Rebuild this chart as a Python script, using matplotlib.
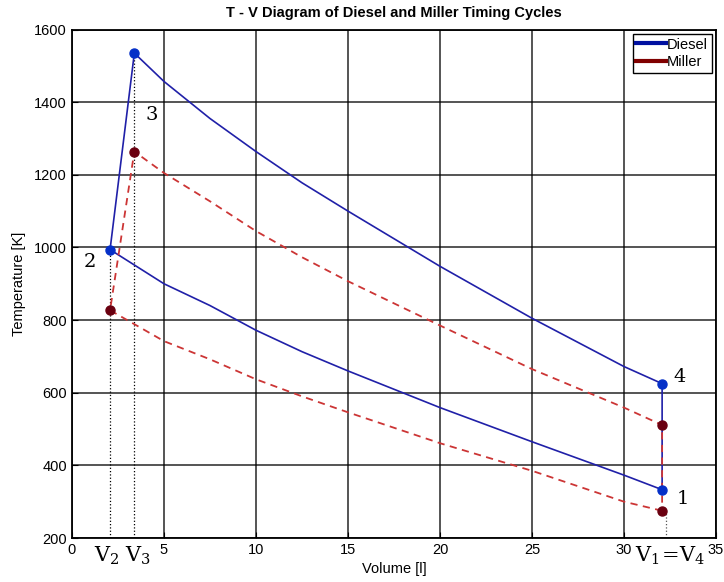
import matplotlib
matplotlib.use("Agg")
import matplotlib.pyplot as plt
import matplotlib.transforms as mtransforms

plt.rcParams['font.family'] = ['Liberation Sans', 'DejaVu Sans']
plt.rcParams['mathtext.fontset'] = 'dejavuserif'

# state volumes [l]
V1 = 32.07
V2 = 2.07
V3 = 3.39

# expansion stroke samples (3 -> 4)
v_exp = [3.39, 5, 7.5, 10, 12.5, 15, 20, 25, 30, 32.07]
diesel_exp_T = [1535, 1457, 1355, 1264, 1178, 1100, 948, 805, 672, 625]
miller_exp_T = [1264, 1205, 1127, 1045, 973, 907, 785, 665, 559, 511]

# compression stroke samples (1 -> 2)
v_comp = [32.07, 30, 25, 20, 15, 12.5, 10, 7.5, 5, 2.07]
diesel_comp_T = [333, 373, 465, 559, 660, 713, 772, 840, 900, 994]
miller_comp_T = [275, 300, 385, 461, 546, 590, 637, 692, 742, 827]

state_labels = ['1', '2', '3', '4']
label_pos = [(33.2, 308), (0.96, 961), (4.33, 1365), (33.0, 643)]

DIESEL_LINE = '#2020a8'
DIESEL_DOT = '#0530c8'
MILLER_LINE = '#cc3535'
MILLER_DOT = '#6a0010'


def cycle_path(v_c, t_c, v_e, t_e):
    v = list(v_c) + list(v_e) + [v_c[0]]
    t = list(t_c) + list(t_e) + [t_c[0]]
    return v, t


def corners(v_c, t_c, v_e, t_e):
    return [v_c[0], v_c[-1], v_e[0], v_e[-1]], [t_c[0], t_c[-1], t_e[0], t_e[-1]]


fig = plt.figure(figsize=(7.24, 5.82), dpi=100)
ax = fig.add_axes([0.0994, 0.0756, 0.8896, 0.8737])

# dotted guide lines down to the axis
ax.plot([V2, V2], [200, diesel_comp_T[-1]], ls=':', color='black', lw=0.9, zorder=1)
ax.plot([V3, V3], [200, diesel_exp_T[0]], ls=':', color='black', lw=0.9, zorder=1)
ax.plot([V1 + 0.2, V1 + 0.2], [200, miller_comp_T[0]], ls=':', color='#555555', lw=0.9, zorder=1)

dv, dt = cycle_path(v_comp, diesel_comp_T, v_exp, diesel_exp_T)
ax.plot(dv, dt, color=DIESEL_LINE, lw=1.2, zorder=3)
mv, mt = cycle_path(v_comp, miller_comp_T, v_exp, miller_exp_T)
ax.plot(mv, mt, color=MILLER_LINE, lw=1.3, ls=(0, (4, 3)), zorder=4)

cv, ct = corners(v_comp, diesel_comp_T, v_exp, diesel_exp_T)
ax.plot(cv, ct, 'o', color=DIESEL_DOT, ms=6.5, zorder=5)
cv, ct = corners(v_comp, miller_comp_T, v_exp, miller_exp_T)
ax.plot(cv, ct, 'o', color=MILLER_DOT, ms=6.5, zorder=5)

for lab, (x, y) in zip(state_labels, label_pos):
    ax.text(x, y, lab, fontsize=14, family='DejaVu Serif', ha='center', va='center')

trans = mtransforms.blended_transform_factory(ax.transData, ax.transAxes)
ax.text(1.9, -0.036, r'$\mathrm{V}_2$', transform=trans, fontsize=15, ha='center', va='center')
ax.text(3.6, -0.036, r'$\mathrm{V}_3$', transform=trans, fontsize=15, ha='center', va='center')
ax.text(32.5, -0.036, r'$\mathrm{V}_1\!=\!\mathrm{V}_4$', transform=trans, fontsize=15,
        ha='center', va='center')

ax.set_xlim(0, 35)
ax.set_ylim(200, 1600)
ax.set_xticks(range(0, 36, 5))
ax.set_yticks(range(200, 1601, 200))
ax.grid(True, color='black', lw=1.1, alpha=0.85)
ax.set_axisbelow(True)
ax.tick_params(direction='in', length=4, labelsize=10.5, colors='black')
for s in ax.spines.values():
    s.set_linewidth(1.3)

ax.set_xlabel('Volume [l]', fontsize=10.5, labelpad=4)
ax.set_ylabel('Temperature [K]', fontsize=10.5, labelpad=6)
ax.set_title('T - V Diagram of Diesel and Miller Timing Cycles', fontsize=10.5,
             fontweight='bold', pad=9)

h1, = ax.plot([], [], color='#0010a0', lw=3, label='Diesel')
h2, = ax.plot([], [], color='#800000', lw=3, label='Miller')
leg = ax.legend(handles=[h1, h2], loc='upper right', fontsize=10.5, fancybox=False,
                framealpha=1, edgecolor='black', borderpad=0.25, labelspacing=0.25,
                handletextpad=0.1, handlelength=2.0, borderaxespad=0.3)
leg.get_frame().set_linewidth(1.0)

fig.savefig('out.png', dpi=100)
